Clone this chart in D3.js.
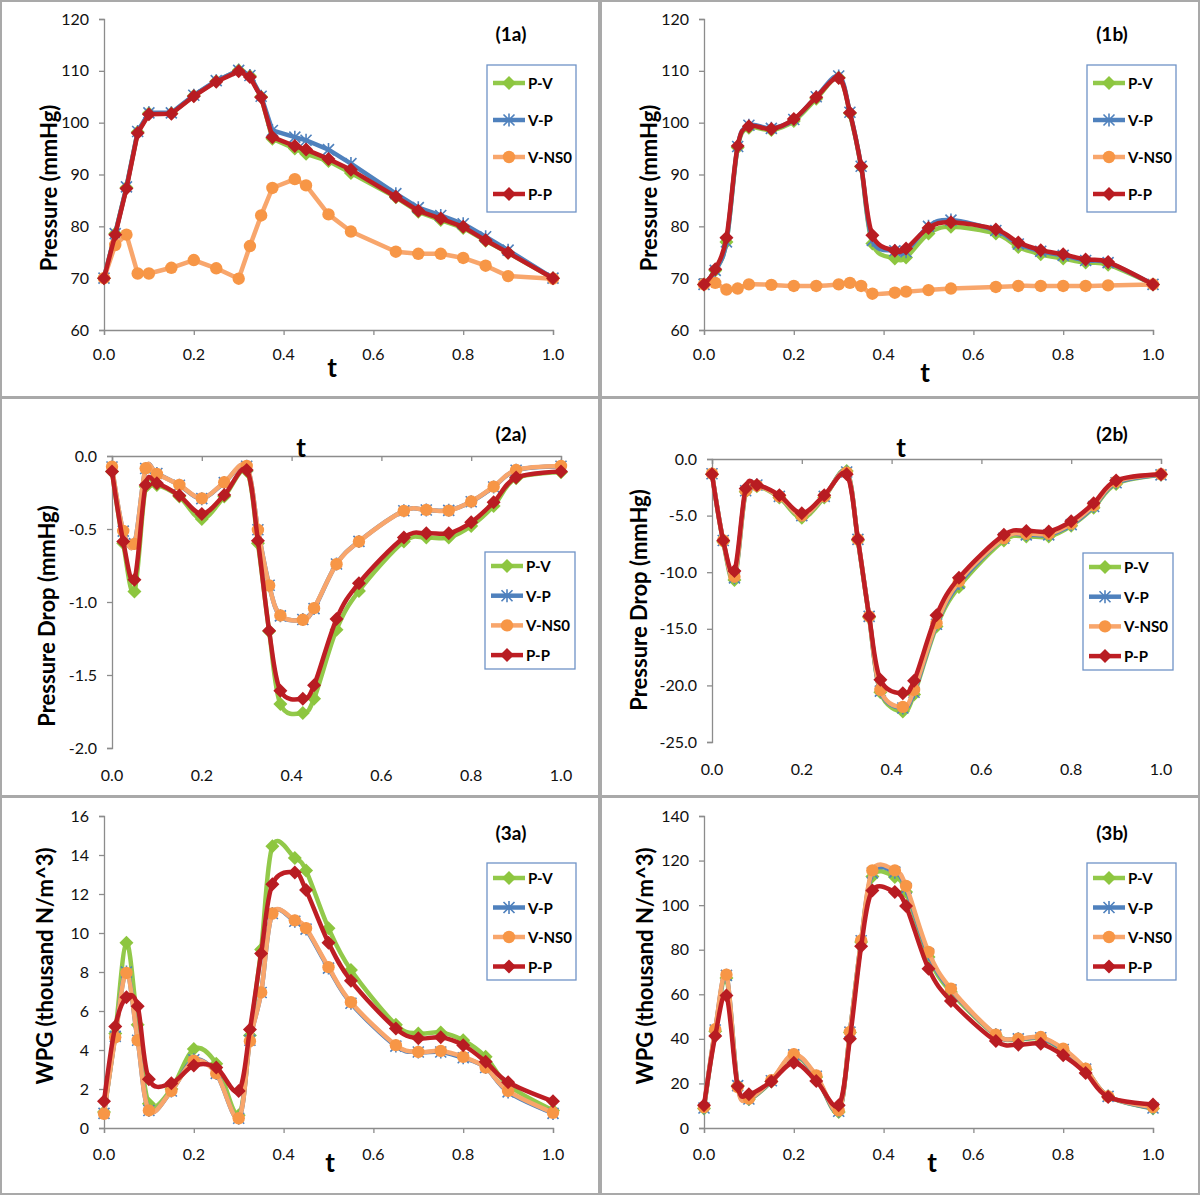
<!DOCTYPE html>
<html><head><meta charset="utf-8">
<script src="https://cdnjs.cloudflare.com/ajax/libs/d3/7.8.5/d3.min.js"></script>
<style>html,body{margin:0;padding:0;background:#fff;}svg{display:block;}</style>
</head><body>
<svg id="c" width="1200" height="1196"></svg>
<script>
// ---------- DATA ----------
const T = [0,0.025,0.05,0.075,0.1,0.15,0.2,0.25,0.3,0.325,0.35,0.375,0.425,0.45,0.5,0.55,0.65,0.7,0.75,0.8,0.85,0.9,1.0];
const seriesNames = ["P-V","V-P","V-NS0","P-P"];
const xTicks = [0,0.2,0.4,0.6,0.8,1.0];

// (1a) Pressure
const p1a_PV   = [70.0,78.6,87.5,98.2,101.8,101.8,105.2,108.0,110.1,109.0,105.0,96.9,95.0,94.0,92.6,90.3,85.6,82.8,81.2,79.7,77.2,74.9,70.0];
const p1a_VP   = [70.0,78.6,87.6,98.3,101.9,101.9,105.3,108.1,110.1,109.1,105.1,98.5,97.2,96.6,94.8,92.1,86.3,83.6,82.1,80.5,78.0,75.4,70.0];
const p1a_VNS0 = [70.0,76.4,78.4,70.9,70.9,72.0,73.5,71.9,69.9,76.2,82.1,87.4,89.1,87.9,82.3,79.0,75.1,74.7,74.7,73.9,72.4,70.4,69.9];
const p1a_PP   = [70.0,78.4,87.3,98.0,101.6,101.7,105.1,107.9,109.9,108.8,104.9,97.2,95.5,94.8,93.0,90.9,85.7,83.0,81.5,79.9,77.3,74.9,70.0];
const ticks1 = [60,70,80,90,100,110,120];

// (1b) Pressure
const p1b_PV   = [68.8,71.5,77.0,95.2,99.0,98.6,100.3,104.6,108.7,101.8,91.5,76.7,73.8,74.0,78.6,79.9,78.6,76.0,74.6,73.8,73.0,72.6,68.8];
const p1b_VP   = [68.8,71.5,77.0,95.4,99.5,98.9,100.6,105.0,109.0,102.0,91.6,77.3,75.3,75.1,80.0,81.2,79.2,76.6,75.2,74.4,73.4,73.0,68.8];
const p1b_VNS0 = [68.8,69.1,67.8,68.0,68.8,68.7,68.5,68.5,68.8,69.1,68.5,67.0,67.2,67.4,67.7,68.0,68.3,68.5,68.5,68.5,68.5,68.6,68.8];
const p1b_PP   = [68.8,71.7,77.8,95.5,99.3,98.8,100.7,104.9,108.6,101.9,91.6,78.3,75.3,75.7,79.7,80.8,79.4,76.9,75.4,74.6,73.6,73.1,68.8];

// (2a) Pressure drop
const p2a_PV   = [-0.107,-0.598,-0.928,-0.210,-0.198,-0.278,-0.431,-0.278,-0.103,-0.598,-1.200,-1.699,-1.760,-1.662,-1.190,-0.924,-0.586,-0.559,-0.559,-0.479,-0.342,-0.153,-0.112];
const p2a_VP   = [-0.075,-0.515,-0.600,-0.086,-0.120,-0.200,-0.292,-0.182,-0.070,-0.505,-0.885,-1.095,-1.120,-1.045,-0.740,-0.585,-0.375,-0.370,-0.372,-0.313,-0.212,-0.098,-0.070];
const p2a_VNS0 = [-0.073,-0.513,-0.602,-0.084,-0.123,-0.198,-0.290,-0.180,-0.068,-0.506,-0.887,-1.092,-1.122,-1.042,-0.741,-0.586,-0.376,-0.369,-0.374,-0.312,-0.210,-0.096,-0.068];
const p2a_PP   = [-0.107,-0.586,-0.848,-0.198,-0.187,-0.271,-0.397,-0.267,-0.096,-0.580,-1.197,-1.608,-1.662,-1.571,-1.117,-0.871,-0.559,-0.529,-0.529,-0.454,-0.317,-0.148,-0.107];
const ticks2a = [-2.0,-1.5,-1.0,-0.5,0.0];

// (2b) Pressure drop
const p2b_PV   = [-1.35,-7.3,-10.7,-2.9,-2.4,-3.4,-5.2,-3.4,-1.05,-7.2,-14.0,-20.6,-22.3,-20.8,-14.8,-11.3,-7.2,-6.85,-6.85,-5.9,-4.3,-2.2,-1.4];
const p2b_VP   = [-1.3,-7.2,-10.5,-2.8,-2.3,-3.3,-5.0,-3.3,-1.15,-7.1,-13.9,-20.5,-22.0,-20.6,-14.6,-11.0,-7.0,-6.7,-6.7,-5.8,-4.2,-2.1,-1.4];
const p2b_VNS0 = [-1.3,-7.2,-10.4,-2.8,-2.35,-3.3,-5.0,-3.3,-1.2,-7.1,-13.9,-20.4,-21.9,-20.4,-14.5,-10.8,-7.0,-6.6,-6.6,-5.7,-4.1,-2.0,-1.35];
const p2b_PP   = [-1.35,-7.2,-9.9,-2.6,-2.3,-3.2,-4.8,-3.2,-1.35,-7.1,-13.9,-19.5,-20.7,-19.6,-13.8,-10.5,-6.7,-6.35,-6.4,-5.5,-3.9,-1.9,-1.35];
const ticks2b = [-25,-20,-15,-10,-5,0];

// (3a) WPG
const p3a_PV   = [0.82,4.85,9.5,5.3,1.25,2.0,4.05,3.3,0.65,4.75,9.15,14.45,13.85,13.2,10.25,8.1,5.3,4.85,4.9,4.5,3.65,2.2,0.9];
const p3a_VP   = [0.75,4.7,8.0,4.5,0.9,1.9,3.5,2.8,0.5,4.5,6.95,11.0,10.6,10.2,8.2,6.4,4.2,3.9,3.9,3.6,3.1,1.85,0.75];
const p3a_VNS0 = [0.73,4.65,7.95,4.5,0.9,1.9,3.45,2.8,0.5,4.45,6.95,11.0,10.65,10.25,8.25,6.45,4.25,3.9,3.95,3.65,3.1,1.9,0.78];
const p3a_PP   = [1.37,5.2,6.7,6.25,2.5,2.3,3.2,3.1,1.9,5.05,8.95,12.5,13.1,12.2,9.5,7.55,5.1,4.6,4.65,4.25,3.4,2.35,1.37];
const ticks3a = [0,2,4,6,8,10,12,14,16];

// (3b) WPG
const p3b_PV   = [8.7,43.4,67.3,19.1,12.9,20.9,32.2,22.9,7.2,42.8,83.5,112.9,112.6,105.9,76.7,61.0,41.6,39.8,40.1,34.8,26.2,14.2,8.7];
const p3b_VP   = [9.0,44.0,68.5,19.0,13.0,21.2,32.8,23.2,7.5,43.0,84.0,114.5,114.8,107.5,78.0,62.0,41.8,40.0,40.5,35.2,26.4,14.2,9.0];
const p3b_VNS0 = [9.4,44.3,68.8,18.4,13.2,21.4,33.1,23.6,7.9,43.1,84.2,115.6,115.6,108.6,79.0,62.5,41.9,40.1,40.8,35.6,26.6,14.2,9.4];
const p3b_PP   = [10.2,41.3,59.5,18.7,15.1,20.9,29.3,21.1,10.2,40.1,81.5,106.6,105.9,99.6,71.5,57.0,39.0,37.4,37.8,32.6,24.7,13.9,10.5];
const ticks3b = [0,20,40,60,80,100,120,140];

// ---------- STYLE ----------
const lineColor   = {"P-V":"#92C94A","V-P":"#4F81BD","V-NS0":"#F8A66C","P-P":"#BE1E24"};
const markColor   = {"P-V":"#8DC63F","V-P":"#4F81BD","V-NS0":"#F79646","P-P":"#B81C22"};
const markType    = {"P-V":"diamond","V-P":"asterisk","V-NS0":"circle","P-P":"diamond"};
const FONT = "Lato, 'Open Sans', Arial, sans-serif";
const axisColor = "#8C8C8C";
const fmtInt = d => String(Math.round(d));
const fmtOne = d => d.toFixed(1);   // plain hyphen-minus like the original

const panels = [
  {label:"(1a)", series:[p1a_PV,p1a_VP,p1a_VNS0,p1a_PP], yTicks:ticks1, fmt:fmtInt,
   px:[104,553], py:[330,19], top:false, tickLabY:353, ytitle:"Pressure (mmHg)", yt:[48,188], tt:[332,367],
   lab:[511,33], leg:{x:487,y:65,w:89,h:147,r0:18,gap:37}, smooth:false, box:[1,1,598,396]},
  {label:"(1b)", series:[p1b_PV,p1b_VP,p1b_VNS0,p1b_PP], yTicks:ticks1, fmt:fmtInt,
   px:[704,1153], py:[330,19], top:false, tickLabY:353, ytitle:"Pressure (mmHg)", yt:[648,188], tt:[925,372],
   lab:[1112,33], leg:{x:1087,y:65,w:89,h:147,r0:18,gap:37}, smooth:true, box:[601,1,598,396]},
  {label:"(2a)", series:[p2a_PV,p2a_VP,p2a_VNS0,p2a_PP], yTicks:ticks2a, fmt:fmtOne,
   px:[112,561], py:[748,456], top:true, tickLabY:774, ytitle:"Pressure Drop (mmHg)", yt:[46,616], tt:[301,447],
   lab:[511,433], leg:{x:485,y:552,w:90,h:117,r0:14,gap:29.7}, smooth:true, box:[1,398,598,398]},
  {label:"(2b)", series:[p2b_PV,p2b_VP,p2b_VNS0,p2b_PP], yTicks:ticks2b, fmt:fmtOne,
   px:[712,1161], py:[742,459], top:true, tickLabY:768, ytitle:"Pressure Drop (mmHg)", yt:[638,600], tt:[901,447],
   lab:[1112,433], leg:{x:1083,y:553,w:90,h:117,r0:14,gap:29.7}, smooth:true, box:[601,398,598,398]},
  {label:"(3a)", series:[p3a_PV,p3a_VP,p3a_VNS0,p3a_PP], yTicks:ticks3a, fmt:fmtInt,
   px:[104,553], py:[1128,816], top:false, tickLabY:1153, ytitle:"WPG (thousand N/m^3)", yt:[44,966], tt:[330,1162],
   lab:[511,832], leg:{x:487,y:863,w:89,h:117,r0:15,gap:29.5}, smooth:true, box:[1,797,598,397]},
  {label:"(3b)", series:[p3b_PV,p3b_VP,p3b_VNS0,p3b_PP], yTicks:ticks3b, fmt:fmtInt,
   px:[704,1153], py:[1128,816], top:false, tickLabY:1153, ytitle:"WPG (thousand N/m^3)", yt:[644,966], tt:[932,1162],
   lab:[1112,832], leg:{x:1087,y:863,w:89,h:117,r0:15,gap:29.5}, smooth:true, box:[601,797,598,397]}
];

const svg = d3.select("#c");

function drawMarker(g, type, x, y, color) {
  if (type === "diamond") {
    g.append("path").attr("d", `M${x},${y-7}L${x+7},${y}L${x},${y+7}L${x-7},${y}Z`).attr("fill", color);
  } else if (type === "circle") {
    g.append("circle").attr("cx", x).attr("cy", y).attr("r", 6.2).attr("fill", color);
  } else {
    const s = 5.5;
    g.append("path").attr("d", `M${x-s},${y-s}L${x+s},${y+s}M${x-s},${y+s}L${x+s},${y-s}M${x},${y-s-1}L${x},${y+s+1}`)
      .attr("stroke", color).attr("stroke-width", 1.6).attr("fill", "none");
  }
}

panels.forEach(p => {
  svg.append("rect").attr("x", p.box[0]).attr("y", p.box[1]).attr("width", p.box[2]).attr("height", p.box[3])
    .attr("fill", "none").attr("stroke", "#A9A9A9").attr("stroke-width", 2);

  const x = d3.scaleLinear().domain([0, 1]).range(p.px);
  const y = d3.scaleLinear().domain(d3.extent(p.yTicks)).range(p.py);
  const g = svg.append("g");

  const yAx = g.append("g").attr("transform", `translate(${p.px[0]},0)`)
    .call(d3.axisLeft(y).tickValues(p.yTicks).tickFormat(p.fmt).tickSize(5).tickPadding(10));
  const xAxY = p.top ? p.py[1] : p.py[0];
  const xAx = g.append("g").attr("transform", `translate(0,${xAxY})`)
    .call(d3.axisBottom(x).tickValues(xTicks).tickFormat("").tickSize(5));
  [yAx, xAx].forEach(a => {
    a.select(".domain").attr("stroke", axisColor).attr("stroke-width", 1.3);
    a.selectAll(".tick line").attr("stroke", axisColor).attr("stroke-width", 1.3);
  });
  yAx.selectAll(".tick text").attr("font-family", FONT).attr("font-size", 16).attr("fill", "#111");
  g.append("g").selectAll("text").data(xTicks).join("text")
    .attr("x", d => x(d)).attr("y", p.tickLabY).attr("text-anchor", "middle").attr("dominant-baseline", "central")
    .attr("font-family", FONT).attr("font-size", 16).attr("fill", "#111").text(fmtOne);

  g.append("text").attr("transform", `translate(${p.yt[0]},${p.yt[1]}) rotate(-90)`)
    .attr("text-anchor", "middle").attr("dominant-baseline", "central")
    .attr("font-family", FONT).attr("font-weight", "bold").attr("font-size", 22).attr("fill", "#000").text(p.ytitle);
  g.append("text").attr("x", p.tt[0]).attr("y", p.tt[1]).attr("text-anchor", "middle").attr("dominant-baseline", "central")
    .attr("font-family", FONT).attr("font-weight", "bold").attr("font-size", 26).attr("fill", "#000").text("t");
  g.append("text").attr("x", p.lab[0]).attr("y", p.lab[1]).attr("text-anchor", "middle").attr("dominant-baseline", "central")
    .attr("font-family", FONT).attr("font-weight", "bold").attr("font-size", 19).attr("fill", "#000").text(p.label);

  const line = d3.line().x(d => x(d[0])).y(d => y(d[1]))
    .curve(p.smooth ? d3.curveCardinal.tension(0) : d3.curveLinear);
  seriesNames.forEach((name, i) => {
    const pts = T.map((t, k) => [t, p.series[i][k]]);
    const sg = g.append("g");
    sg.append("path").attr("d", line(pts)).attr("fill", "none").attr("stroke", lineColor[name])
      .attr("stroke-width", 4.5).attr("stroke-linejoin", "round").attr("stroke-linecap", "round");
    pts.forEach(d => drawMarker(sg, markType[name], x(d[0]), y(d[1]), markColor[name]));
  });

  const L = p.leg;
  const lg = g.append("g");
  lg.append("rect").attr("x", L.x).attr("y", L.y).attr("width", L.w).attr("height", L.h)
    .attr("fill", "#fff").attr("stroke", "#6F93C7").attr("stroke-width", 1.3);
  seriesNames.forEach((name, i) => {
    const ry = L.y + L.r0 + i * L.gap;
    lg.append("line").attr("x1", L.x + 6).attr("x2", L.x + 38).attr("y1", ry).attr("y2", ry)
      .attr("stroke", lineColor[name]).attr("stroke-width", 4.5);
    drawMarker(lg, markType[name], L.x + 22, ry, markColor[name]);
    lg.append("text").attr("x", L.x + 41).attr("y", ry).attr("dominant-baseline", "central")
      .attr("font-family", FONT).attr("font-weight", "bold").attr("font-size", 15).attr("fill", "#000").text(name);
  });
});
</script>
</body></html>
